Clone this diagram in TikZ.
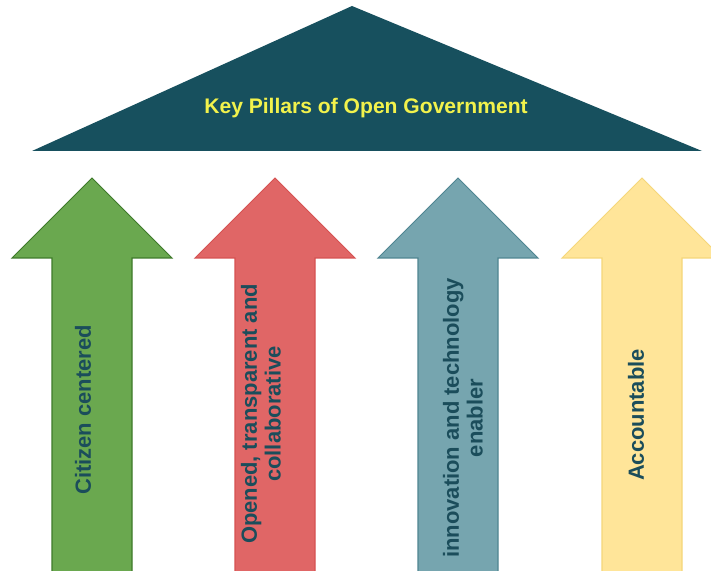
\documentclass[tikz,border=0pt]{standalone}
\usepackage{fontspec}
\setmainfont{Liberation Sans}
\usepackage{xcolor}
\usepackage{tikz}
\usetikzlibrary{positioning}
\definecolor{roofcol}{HTML}{17505E}
\definecolor{titlecol}{HTML}{F2F24C}
\definecolor{txtcol}{HTML}{1B4D5B}
\definecolor{gfill}{HTML}{6AA84F}
\definecolor{gline}{HTML}{3E7A2A}
\definecolor{rfill}{HTML}{E06666}
\definecolor{rline}{HTML}{D65252}
\definecolor{bfill}{HTML}{76A5AF}
\definecolor{bline}{HTML}{4F8591}
\definecolor{yfill}{HTML}{FFE599}
\definecolor{yline}{HTML}{F5D77A}
\tikzstyle{pillar}=[line width=0.6pt, line join=miter]
\tikzstyle{pillartext}=[rotate=90, align=center, text=txtcol, font=\fontsize{12.5}{13.5}\selectfont\bfseries]
\tikzstyle{titletext}=[text=titlecol, font=\fontsize{12}{14}\selectfont\bfseries]

\begin{document}
\begin{tikzpicture}[x=0.02cm, y=-0.02cm]
                \clip (0,0) rectangle (711,571);
                \fill[white] (0,0) rectangle (711,571);

                % Roof
                \coordinate (apex) at (352,6);
                \coordinate (roofL) at (32,151);
                \coordinate (roofR) at (702,151);
                \fill[roofcol] (apex) -- (roofR) -- (roofL) -- cycle;
                \node[titletext] (title) at (366,108) {Key Pillars of Open Government};

                % Pillars
                \coordinate (g) at (92,178);
                \coordinate (r) at (275,178);
                \coordinate (b) at (458,178);
                \coordinate (y) at (642,178);
                \filldraw[pillar, fill=gfill, draw=gline] (g) -- ++(80,80) -- ++(-40,0) -- ++(0,330) -- ++(-80,0) -- ++(0,-330) -- ++(-40,0) -- cycle;
                \filldraw[pillar, fill=rfill, draw=rline] (r) -- ++(80,80) -- ++(-40,0) -- ++(0,330) -- ++(-80,0) -- ++(0,-330) -- ++(-40,0) -- cycle;
                \filldraw[pillar, fill=bfill, draw=bline] (b) -- ++(80,80) -- ++(-40,0) -- ++(0,330) -- ++(-80,0) -- ++(0,-330) -- ++(-40,0) -- cycle;
                \filldraw[pillar, fill=yfill, draw=yline] (y) -- ++(80,80) -- ++(-40,0) -- ++(0,330) -- ++(-80,0) -- ++(0,-330) -- ++(-40,0) -- cycle;

                % Labels
                \node[pillartext] (citizen) at (83,410) {Citizen centered};
                \node[pillartext] (opened) at (261,414) {Opened, transparent and\\collaborative};
                \node[pillartext] (innov) at (463,418) {innovation and technology\\enabler};
                \node[pillartext] (account) at (636,415) {Accountable};
            \end{tikzpicture}
\end{document}
